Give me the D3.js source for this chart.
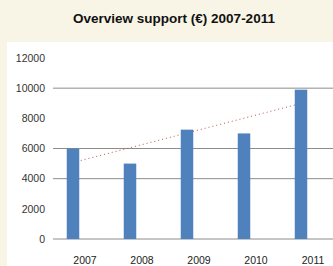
<!DOCTYPE html>
<html>
<head>
<meta charset="utf-8">
<script src="https://cdn.jsdelivr.net/npm/d3@7"></script>
<style>
  body { margin: 0; background: #f8f5e6; }
  svg { display: block; }
</style>
</head>
<body>
<svg width="333" height="266"></svg>
<script>
// chart data
var years = ["2007", "2008", "2009", "2010", "2011"];
var support = [6000, 5000, 7250, 7000, 9900];
var yTicks = [0, 2000, 4000, 6000, 8000, 10000, 12000];
var gridTicks = [0, 4000, 6000, 10000];
var title = "Overview support (\u20ac) 2007-2011";

var svg = d3.select("svg"),
    width = +svg.attr("width"),
    height = +svg.attr("height");

// beige backdrop, white plot panel
svg.append("rect").attr("width", width).attr("height", height).attr("fill", "#f8f5e6");
svg.append("rect")
    .attr("x", 7).attr("y", 42)
    .attr("width", width - 7).attr("height", height - 42)
    .attr("fill", "#ffffff");

svg.append("text")
    .attr("x", 174).attr("y", 23)
    .attr("text-anchor", "middle")
    .attr("font-family", "Liberation Sans, Arial, sans-serif")
    .attr("font-weight", "bold")
    .attr("font-size", "13.5px")
    .attr("fill", "#111")
    .text(title);

var x = d3.scalePoint().domain(years).range([44.5, 329.5]).padding(0.5);
var y = d3.scaleLinear().domain([0, 12000]).range([239, 58]);

// grid lines
svg.append("g").selectAll("line")
    .data(gridTicks)
    .enter().append("line")
        .attr("x1", 53).attr("x2", width)
        .attr("y1", function(d) { return y(d); })
        .attr("y2", function(d) { return y(d); })
        .attr("stroke", "#8c8c8c")
        .attr("stroke-width", 1);

// y labels
svg.append("g").selectAll("text")
    .data(yTicks)
    .enter().append("text")
        .attr("x", 45)
        .attr("y", function(d) { return y(d); })
        .attr("dy", "0.35em")
        .attr("text-anchor", "end")
        .attr("font-family", "Liberation Sans, Arial, sans-serif")
        .attr("font-size", "10.5px")
        .attr("fill", "#333")
        .text(function(d) { return d; });

// linear trend (least squares) drawn behind bars
var n = support.length,
    xs = d3.range(n),
    mx = d3.mean(xs),
    my = d3.mean(support),
    slope = d3.sum(xs, function(i) { return (i - mx) * (support[i] - my); }) /
            d3.sum(xs, function(i) { return (i - mx) * (i - mx); }),
    icpt = my - slope * mx;

svg.append("line")
    .attr("x1", x(years[0])).attr("y1", y(icpt))
    .attr("x2", x(years[n - 1])).attr("y2", y(icpt + slope * (n - 1)))
    .attr("stroke", "#c0504d")
    .attr("stroke-width", 1)
    .attr("stroke-dasharray", "1,3");

// bars
var barW = 12.5;
svg.append("g").selectAll("rect")
    .data(support)
    .enter().append("rect")
        .attr("x", function(d, i) { return x(years[i]) - barW / 2; })
        .attr("y", function(d) { return y(d); })
        .attr("width", barW)
        .attr("height", function(d) { return y(0) - y(d); })
        .attr("fill", "#4f81bd");

// x labels
svg.append("g").selectAll("text")
    .data(years)
    .enter().append("text")
        .attr("x", function(d) { return x(d) + 12; })
        .attr("y", 263.5)
        .attr("text-anchor", "middle")
        .attr("font-family", "Liberation Sans, Arial, sans-serif")
        .attr("font-size", "10.5px")
        .attr("fill", "#222")
        .text(function(d) { return d; });
</script>
</body>
</html>
